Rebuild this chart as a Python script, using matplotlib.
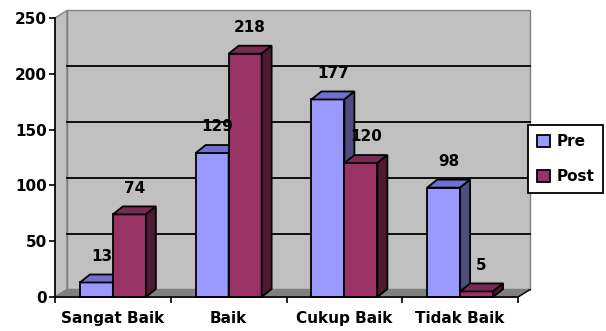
import numpy as np
import matplotlib.pyplot as plt
from matplotlib.patches import Polygon

categories = ['Sangat Baik', 'Baik', 'Cukup Baik', 'Tidak Baik']
series = ['Pre', 'Post']
pre = [13, 129, 177, 98]
post = [74, 218, 120, 5]
yticks = [0, 50, 100, 150, 200, 250]

# front, top, side shades
pre_cols = ('#9999ff', '#7070d0', '#4d4d80')
post_cols = ('#993366', '#7a2952', '#4d1a33')

plt.rcParams['font.family'] = 'DejaVu Sans'
plt.rcParams['font.weight'] = 'bold'

fig = plt.figure(figsize=(6.06, 3.31), dpi=100)
ax = fig.add_axes([55/606, 34/331, 463/606, 279/331])
n = len(categories)
ymax = yticks[-1]
ax.set_xlim(0, n)
ax.set_ylim(0, ymax)
ax.patch.set_visible(False)

# pixel -> data units, for the fake 3d depth
W, H = fig.get_size_inches() * fig.dpi
pos = ax.get_position()
xu = n / (pos.width * W)
yu = ymax / (pos.height * H)
wdx, wdy = 12 * xu, 7.5 * yu
bdx, bdy = 10 * xu, 8 * yu


def poly(pts, fc, ec='black', lw=1.3, z=3):
    ax.add_patch(Polygon(pts, closed=True, facecolor=fc, edgecolor=ec,
                         linewidth=lw, zorder=z, clip_on=False))


# walls and floor
poly([(wdx, wdy), (n + wdx, wdy), (n + wdx, ymax + wdy), (wdx, ymax + wdy)],
     '#c0c0c0', '#808080', lw=1.0, z=0)
poly([(0, 0), (wdx, wdy), (wdx, ymax + wdy), (0, ymax)], '#c0c0c0', '#808080', lw=1.0, z=0)
poly([(0, 0), (n, 0), (n + wdx, wdy), (wdx, wdy)], '#808080', '#808080', lw=1.0, z=0)
for v in yticks[1:-1]:
    ax.plot([wdx, n + wdx], [v + wdy, v + wdy], color='black', lw=1.3, zorder=1, clip_on=False)
ax.plot([n, n + wdx], [0, wdy], color='black', lw=1.0, zorder=1, clip_on=False)


def bar3d(x0, w, h, cols):
    front, top, side = cols
    poly([(x0, 0), (x0 + w, 0), (x0 + w, h), (x0, h)], front)
    poly([(x0, h), (x0 + w, h), (x0 + w + bdx, h + bdy), (x0 + bdx, h + bdy)], top)
    poly([(x0 + w, 0), (x0 + w + bdx, bdy), (x0 + w + bdx, h + bdy), (x0 + w, h)], side)
    ax.annotate(str(h), (x0 + w / 2 + bdx / 2, h), xytext=(0, 19), textcoords='offset points',
                ha='center', va='center', fontsize=11, fontweight='bold', zorder=5)


w = 0.285
for i in range(n):
    c = i + 0.5
    bar3d(c - w, w, pre[i], pre_cols)
    bar3d(c, w, post[i], post_cols)

# axes
for s in ['top', 'right']:
    ax.spines[s].set_visible(False)
for s in ['left', 'bottom']:
    ax.spines[s].set_color('black')
    ax.spines[s].set_linewidth(1.2)
    ax.spines[s].set_zorder(4)
ax.set_yticks(yticks)
ax.tick_params(axis='y', direction='out', length=4, width=1.2, pad=2, labelsize=11)
ax.set_xticks(range(n + 1))
ax.set_xticklabels([])
ax.tick_params(axis='x', which='major', direction='out', length=4, width=1.2)
ax.set_xticks(np.arange(n) + 0.5, minor=True)
ax.set_xticklabels(categories, minor=True, fontsize=11, fontweight='bold')
ax.tick_params(axis='x', which='minor', length=0, pad=10)

handles = [plt.Rectangle((0, 0), 1, 1, facecolor=pre_cols[0], edgecolor='black', lw=1.3),
           plt.Rectangle((0, 0), 1, 1, facecolor=post_cols[0], edgecolor='black', lw=1.3)]
leg = fig.legend(handles, series, loc='upper left', bbox_to_anchor=(528/606, 1 - 125/331),
                 borderaxespad=0, fontsize=11, frameon=True, fancybox=False, framealpha=1,
                 edgecolor='black', borderpad=0.6, handlelength=0.85, handleheight=0.85,
                 handletextpad=0.4, labelspacing=1.3)
leg.get_frame().set_linewidth(1.3)
for t in leg.get_texts():
    t.set_fontweight('bold')

fig.savefig('out.png', dpi=100)
